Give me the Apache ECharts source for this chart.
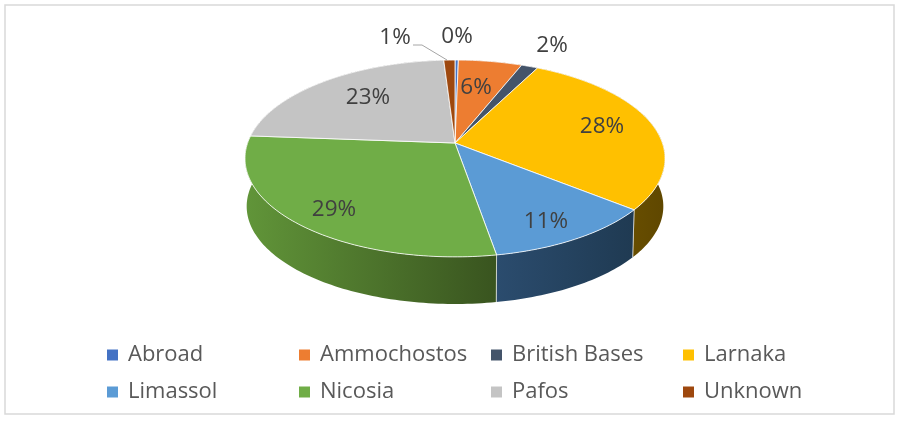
<!DOCTYPE html>
<html><head><meta charset="utf-8">
<style>html,body{margin:0;padding:0;background:#fff}#c{width:900px;height:422px}</style>
<script src="https://cdn.jsdelivr.net/npm/echarts@6/dist/echarts.min.js"></script>
</head><body><div id="c"></div>
<script>
const categories = ['Abroad','Ammochostos','British Bases','Larnaka','Limassol','Nicosia','Pafos','Unknown'];
const values = [0.3,5.7,1.5,28.3,11.49,28.9,22.81,1];
const topColors = ['#4472c4','#ed7d31','#44546a','#ffc000','#5b9bd5','#70ad47','#c4c4c4','#9e480e'];
const wallLeft  = ['#2a4478','#8e4b1d','#29323f','#7f6000','#2b4c6e','#619539','#7a7a7a','#5f2b08'];
const wallRight = ['#2a4478','#8e4b1d','#29323f','#5f4700','#1f3a52','#39541f','#7a7a7a','#5f2b08'];

// label anchors (layout only)
const labelAt = [[457,37],[476,88],[552,46],[602,127],[546,222],[334,210],[368,98],[395,38]];
const total = values.reduce((a,b)=>a+b,0);
const starts = []; values.reduce((a,b,i)=>{starts[i]=a;return a+b;},0);

// perspective projection of the disc
const CX=455, CY=143, A=207.4, B=96, K=0.157, DEPTH=48, BOTSCALE=0.992;
function proj(t, wall){
  const u=Math.sin(t), v=-Math.cos(t), d=1-K*v;
  const s = wall?BOTSCALE:1;
  return [CX+s*A*u/d, CY+(wall?DEPTH:0)+s*B*v/d];
}
function arcPts(t0,t1,wall){
  const n=Math.max(2,Math.ceil(Math.abs(t1-t0)/0.02)), pts=[];
  for(let i=0;i<=n;i++) pts.push(proj(t0+(t1-t0)*i/n,wall));
  return pts;
}
function angles(api){
  const v=api.value(0), s=api.value(1);
  return [s/total*2*Math.PI,(s+v)/total*2*Math.PI];
}
function wallRender(params,api){
  const [t0,t1]=angles(api), i=params.seriesIndex;
  const top=arcPts(t0,t1,false), bot=arcPts(t0,t1,true).reverse();
  const xs=top.map(p=>p[0]);
  return {type:'group',children:[
    {type:'polygon',shape:{points:top.concat(bot)},
     style:{fill:new echarts.graphic.LinearGradient(Math.min(...xs),0,Math.max(...xs),0,
       [{offset:0,color:wallLeft[i]},{offset:1,color:wallRight[i]}],true)}},
    {type:'line',shape:{x1:top[0][0],y1:top[0][1],x2:bot[bot.length-1][0],y2:bot[bot.length-1][1]},
     style:{stroke:'rgba(255,255,255,0.55)',lineWidth:1}},
    {type:'line',shape:{x1:top[top.length-1][0],y1:top[top.length-1][1],x2:bot[0][0],y2:bot[0][1]},
     style:{stroke:'rgba(255,255,255,0.55)',lineWidth:1}}
  ]};
}
function topRender(params,api){
  const [t0,t1]=angles(api), i=params.seriesIndex-categories.length;
  const children=[{type:'polygon',shape:{points:[[CX,CY]].concat(arcPts(t0,t1,false))},
    style:{fill:topColors[i],stroke:'rgba(255,255,255,0.8)',lineWidth:1}}];
  return {type:'group',children};
}
function labelRender(params,api){
  const i=params.dataIndex, children=[];
  if(categories[i]==='Unknown') children.push({type:'polyline',
    shape:{points:[[413,45],[422,45],[447,60]]},style:{stroke:'#a6a6a6',fill:null,lineWidth:1}});
  children.push({type:'text',x:labelAt[i][0],y:labelAt[i][1],
    style:{text:Math.round(api.value(0)/total*100)+'%',font:'22.5px "Open Sans"',fill:'#404040',align:'center',verticalAlign:'middle'}});
  return {type:'group',children};
}
const item=i=>[{value:[values[i],starts[i]]}];
const series=[];
categories.forEach((n,i)=>series.push({type:'custom',name:'wall '+n,coordinateSystem:'none',renderItem:wallRender,data:item(i),z:2,silent:true,animation:false}));
categories.forEach((n,i)=>series.push({type:'custom',name:n,coordinateSystem:'none',renderItem:topRender,data:item(i),z:3,silent:true,animation:false,itemStyle:{color:topColors[i]}}));
series.push({type:'custom',name:'labels',coordinateSystem:'none',renderItem:labelRender,
  data:values.map(v=>({value:[v]})),z:4,silent:true,animation:false});

const colX=[102,294,486,678], rowY=[344,381];
const legends=categories.map((n,i)=>({data:[n],left:colX[i%4],top:rowY[Math.floor(i/4)],
  orient:'horizontal',icon:'rect',itemWidth:11,itemHeight:11,itemGap:0,padding:[0,0,0,5],selectedMode:false,
  textStyle:{fontFamily:'Open Sans',fontSize:22,color:'#595959',padding:[0,0,0,5]}}));

const chart=echarts.init(document.getElementById('c'),null,{renderer:'canvas'});
chart.setOption({animation:false,backgroundColor:'#fff',
  graphic:[{type:'rect',z:0,shape:{x:5,y:5,width:889,height:409},style:{fill:'#fff',stroke:'#d9d9d9',lineWidth:1.5}}],
  legend:legends,series});
</script></body></html>
